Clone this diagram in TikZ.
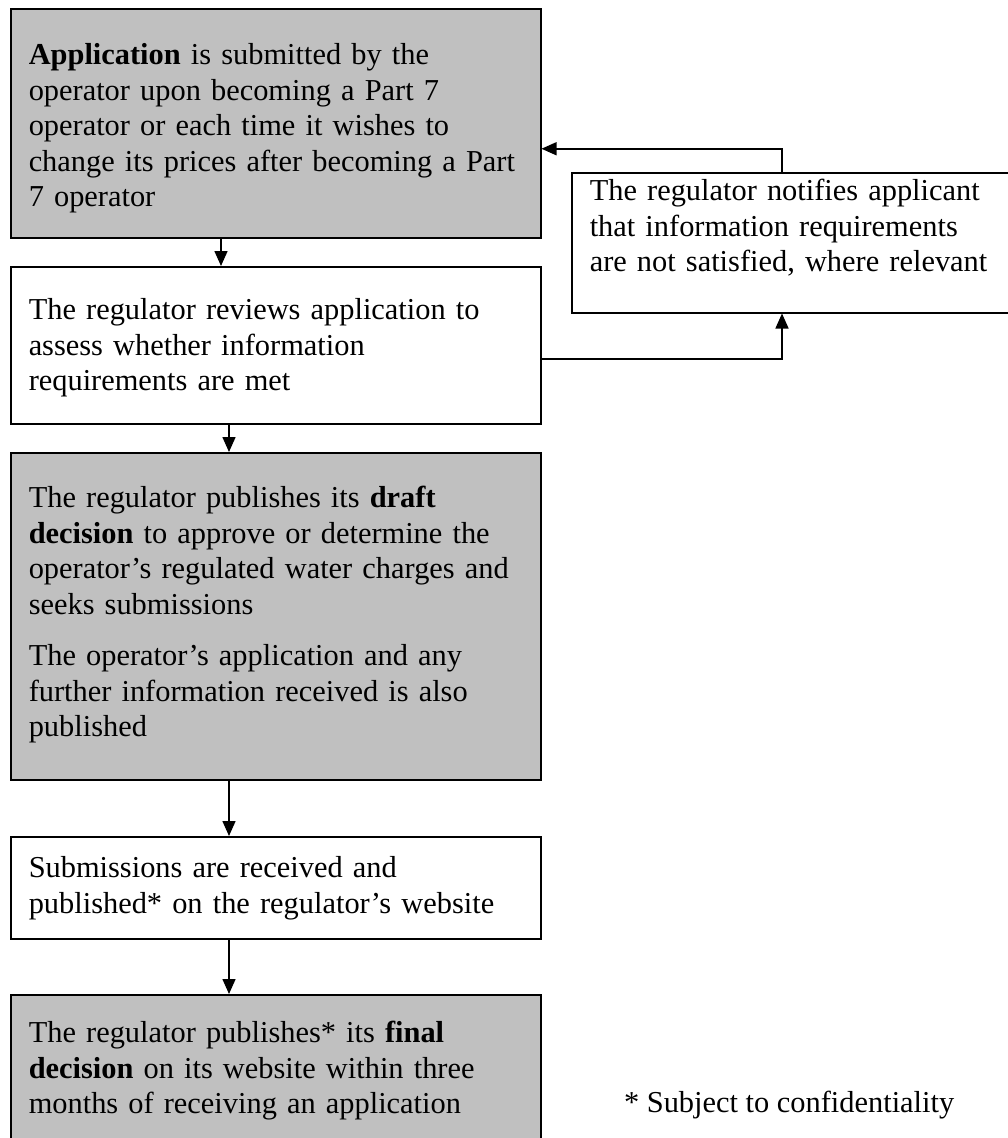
\documentclass[tikz,border=0pt]{standalone}
\usepackage{fontspec}
\setmainfont{Liberation Serif}
\usepackage{xcolor}
\usepackage{tikz}
\usetikzlibrary{arrows.meta, positioning}
\definecolor{boxgrey}{RGB}{192,192,192}

\begin{document}
\begin{tikzpicture}[x=1pt, y=-1pt, line width=1.5pt,
	every node/.style={font=\fontsize{30.4}{35.5}\selectfont},
	stepbox/.style={draw, anchor=north west, align=left, inner xsep=18pt, inner ysep=0pt, text width=494pt},
	shaded/.style={stepbox, fill=boxgrey},
	flow/.style={-{Triangle[length=15pt, width=13pt]}}]
			\useasboundingbox (0,0) rectangle (1007,1138);
			%% main column
			\node[shaded, text height=56pt, text depth=173pt] (app) at (10,8) {\textbf{Application} is submitted by the\\ operator upon becoming a Part 7\\ operator or each time it wishes to\\ change its prices after becoming a Part\\ 7 operator};
			\node[stepbox, text height=53pt, text depth=104pt] (review) at (10,266) {The regulator reviews application to\\ assess whether information\\ requirements are met};
			\node[shaded, text height=55pt, text depth=272pt] (draft) at (10,452) {The regulator publishes its \textbf{draft}\\ \textbf{decision} to approve or determine the\\ operator’s regulated water charges and\\ seeks submissions\\[16pt] The operator’s application and any\\ further information received is also\\ published};
			\node[stepbox, text height=41pt, text depth=61pt] (subm) at (10,836) {Submissions are received and\\ published* on the regulator’s website};
			\node[shaded, text height=48pt, text depth=108pt] (final) at (10,994) {The regulator publishes* its \textbf{final}\\ \textbf{decision} on its website within three\\ months of receiving an application};
			%% side box
			\node[stepbox, text width=430pt, text height=28pt, text depth=112pt] (notify) at (571,172) {The regulator notifies applicant\\ that information requirements\\ are not satisfied, where relevant};
			\node[anchor=base west] (note) at (620,1112) {* Subject to confidentiality};
			
			\draw[flow] ([xshift=211pt]app.south west) -- ([xshift=211pt]review.north west);
			\draw[flow] ([xshift=219pt]review.south west) -- ([xshift=219pt]draft.north west);
			\draw[flow] ([xshift=219pt]draft.south west) -- ([xshift=219pt]subm.north west);
			\draw[flow] ([xshift=219pt]subm.south west) -- ([xshift=219pt]final.north west);
			\draw[flow] ([yshift=-13.5pt]review.east) -| ([xshift=211pt]notify.south west);
			\draw[flow] ([xshift=211pt]notify.north west) |- ([yshift=-25.5pt]app.east);
\end{tikzpicture}
\end{document}
